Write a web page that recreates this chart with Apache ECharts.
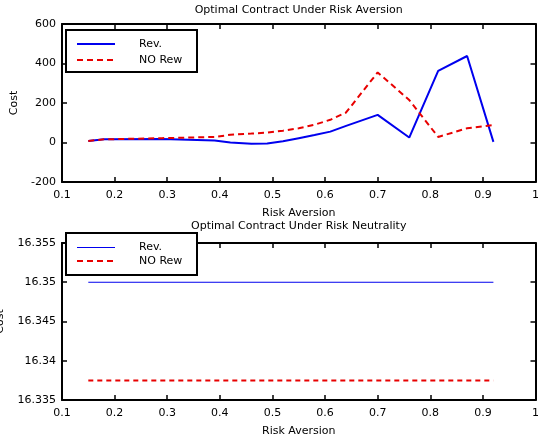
<!DOCTYPE html>
<html>
<head>
<meta charset="utf-8">
<script src="https://cdn.jsdelivr.net/npm/echarts@6/dist/echarts.min.js"></script>
<style>
html,body{margin:0;padding:0;background:#fff;}
#chart{width:548px;height:446px;}
</style>
</head>
<body>
<div id="chart"></div>
<script>
// ---- data ----
const riskAversion = [0.15, 0.18, 0.29, 0.39, 0.42, 0.46, 0.49, 0.52, 0.55, 0.58, 0.61, 0.64, 0.70, 0.76, 0.815, 0.87, 0.92];
const revAversion   = [8, 16, 18, 10, 0, -6, -5, 6, 22, 38, 55, 84, 140, 25, 363, 438, 3];
const noRevAversion = [8, 16, 22, 28, 39, 45, 50, 60, 72, 90, 115, 152, 355, 215, 28, 72, 88];

const neutralX      = [0.15, 0.92];
const revNeutral    = [16.35, 16.35];
const noRevNeutral  = [16.3375, 16.3375];

const seriesNames = ['Rev.', 'NO Rew'];
const titles = ['Optimal Contract Under Risk Aversion', 'Optimal Contract Under Risk Neutrality'];
const xName = 'Risk Aversion';
const yName = 'Cost';

// ---- chart ----
const FONT = 'DejaVu Sans';
const txt = {fontFamily: FONT, fontSize: 11, color: '#000'};
const pairs = (xs, ys) => xs.map((x, i) => [x, ys[i]]);

const G = [
  {left: 62, top: 24, width: 473.5, height: 158},
  {left: 62, top: 243, width: 473.5, height: 157}
];
const tick = {show: true, inside: true, length: 5, lineStyle: {color: '#000', width: 1.5}};
const line = {show: true, onZero: false, lineStyle: {color: '#000', width: 2}};

function xAxes(gi) {
  return [
    {
      gridIndex: gi, type: 'value', min: 0.1, max: 1, interval: 0.1, position: 'bottom',
      name: xName, nameLocation: 'middle', nameGap: 26, nameTextStyle: txt,
      axisLine: line, splitLine: {show: false}, axisTick: tick,
      axisLabel: Object.assign({margin: 8, formatter: v => String(+v.toFixed(1))}, txt)
    },
    {
      gridIndex: gi, type: 'value', min: 0.1, max: 1, interval: 0.1, position: 'top',
      axisLine: line, splitLine: {show: false}, axisLabel: {show: false},
      axisTick: tick
    }
  ];
}
function yAxes(gi, min, max, interval, dec, gap) {
  return [
    {
      gridIndex: gi, type: 'value', min: min, max: max, interval: interval, position: 'left',
      name: yName, nameLocation: 'middle', nameGap: gap, nameTextStyle: txt,
      axisLine: line, splitLine: {show: false}, axisTick: tick,
      axisLabel: Object.assign({margin: 6, formatter: v => String(+v.toFixed(dec))}, txt)
    },
    {
      gridIndex: gi, type: 'value', min: min, max: max, interval: interval, position: 'right',
      axisLine: line, splitLine: {show: false}, axisLabel: {show: false},
      axisTick: tick
    }
  ];
}

const BLUE = '#0000ee', RED = '#e80000';

function legend(top, gap, blueW) {
  return {
    orient: 'vertical', left: 76, top: top, padding: 0, itemGap: gap,
    itemWidth: 38, itemHeight: 12, z: 20, selectedMode: false,
    data: [
      {name: seriesNames[0], itemStyle: {opacity: 0}, lineStyle: {color: BLUE, width: blueW, type: 'solid'}},
      {name: seriesNames[1], itemStyle: {opacity: 0}, lineStyle: {color: RED, width: 2, type: [6, 4]}}
    ],
    formatter: n => '{t|' + n + '}',
    textStyle: {fontFamily: FONT, fontSize: 11, color: '#000', lineHeight: 12,
      rich: {t: {fontFamily: FONT, fontSize: 11, color: '#000', padding: [0, 0, 0, 19]}}}
  };
}

const option = {
  animation: false,
  backgroundColor: '#fff',
  title: [
    {text: titles[0], left: 298.7, top: 5, textAlign: 'center', padding: 0,
      textStyle: Object.assign({fontWeight: 'normal'}, txt)},
    {text: titles[1], left: 298.7, top: 221, textAlign: 'center', padding: 0,
      textStyle: Object.assign({fontWeight: 'normal'}, txt)}
  ],
  grid: G.map(g => Object.assign({show: false, containLabel: false, outerBoundsMode: 'none'}, g)),
  xAxis: xAxes(0).concat(xAxes(1)),
  yAxis: yAxes(0, -200, 600, 200, 0, 39).concat(yAxes(1, 16.335, 16.355, 0.005, 3, 56)),
  legend: [legend(38, 4, 2), legend(241.5, 1.5, 1)],
  graphic: [
    {type: 'rect', z: 10, shape: {x: 66, y: 30, width: 131, height: 42},
      style: {fill: '#fff', stroke: '#000', lineWidth: 2}},
    {type: 'rect', z: 10, shape: {x: 66, y: 233, width: 131, height: 42},
      style: {fill: '#fff', stroke: '#000', lineWidth: 2}}
  ],
  series: [
    {name: seriesNames[0], type: 'line', xAxisIndex: 0, yAxisIndex: 0, symbol: 'none',
      data: pairs(riskAversion, revAversion), lineStyle: {color: BLUE, width: 2}, itemStyle: {color: BLUE}},
    {name: seriesNames[1], type: 'line', xAxisIndex: 0, yAxisIndex: 0, symbol: 'none',
      data: pairs(riskAversion, noRevAversion), lineStyle: {color: RED, width: 2, type: [6, 4]}, itemStyle: {color: RED}},
    {name: seriesNames[0], type: 'line', xAxisIndex: 2, yAxisIndex: 2, symbol: 'none',
      data: pairs(neutralX, revNeutral), lineStyle: {color: BLUE, width: 1}, itemStyle: {color: BLUE}},
    {name: seriesNames[1], type: 'line', xAxisIndex: 2, yAxisIndex: 2, symbol: 'none',
      data: pairs(neutralX, noRevNeutral), lineStyle: {color: RED, width: 2, type: [5, 4]}, itemStyle: {color: RED}}
  ]
};

const chart = echarts.init(document.getElementById('chart'), null, {renderer: 'canvas'});
chart.setOption(option);
</script>
</body>
</html>
